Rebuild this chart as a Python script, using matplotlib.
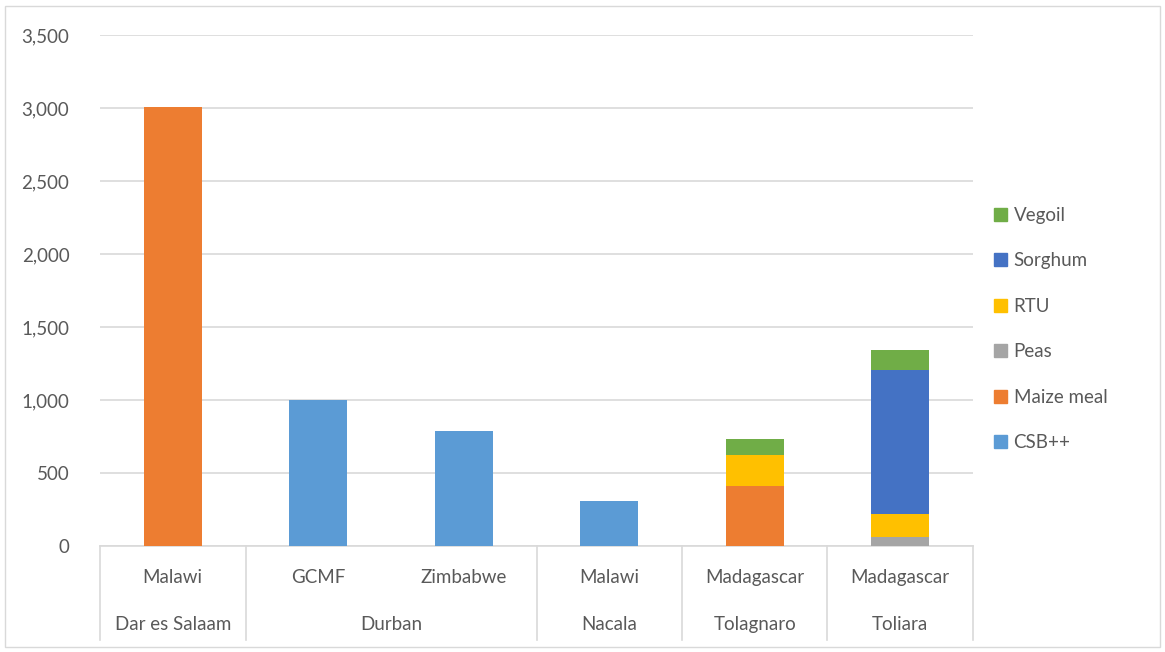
import matplotlib.pyplot as plt
import matplotlib.transforms as mtransforms
from matplotlib.patches import Rectangle, Patch
import numpy as np

plt.rcParams['font.family'] = ['Lato', 'DejaVu Sans']

# categories: (origin, port)
origins = ["Malawi", "GCMF", "Zimbabwe", "Malawi", "Madagascar", "Madagascar"]
ports = ["Dar es Salaam", "Durban", "Nacala", "Tolagnaro", "Toliara"]
port_spans = [(0, 0), (1, 2), (3, 3), (4, 4), (5, 5)]

commodities = ["CSB++", "Maize meal", "Peas", "RTU", "Sorghum", "Vegoil"]
colors = ["#5B9BD5", "#ED7D31", "#A5A5A5", "#FFC000", "#4472C4", "#70AD47"]

csb = [0, 1000, 790, 310, 0, 0]
maize = [3010, 0, 0, 0, 413, 0]
peas = [0, 0, 0, 0, 0, 60]
rtu = [0, 0, 0, 0, 210, 160]
sorghum = [0, 0, 0, 0, 0, 985]
vegoil = [0, 0, 0, 0, 110, 135]
series = [csb, maize, peas, rtu, sorghum, vegoil]

fs = 13.5

fig = plt.figure(figsize=(11.65, 6.52), dpi=100)
ax = fig.add_axes([100 / 1165, 106 / 652, 873 / 1165, 511 / 652])

x = np.arange(len(origins))
bottom = np.zeros(len(origins))
for name, vals, c in zip(commodities, series, colors):
    ax.bar(x, vals, width=0.4, bottom=bottom, color=c, label=name, zorder=3)
    bottom += np.array(vals)

ax.set_xlim(-0.5, len(origins) - 0.5)
ax.set_ylim(0, 3500)
ax.set_yticks(np.arange(0, 3501, 500))
ax.set_yticklabels([f"{v:,}" for v in range(0, 3501, 500)])
ax.yaxis.grid(True, color="#D9D9D9", linewidth=1.2, zorder=0)
ax.tick_params(axis='y', length=0, pad=22, labelsize=fs, labelcolor="#595959")
ax.tick_params(axis='x', length=0, labelbottom=False)
for s in ["top", "right", "left"]:
    ax.spines[s].set_visible(False)
ax.spines["bottom"].set_color("#D9D9D9")
ax.spines["bottom"].set_linewidth(1.2)

# multi-level category axis
trans = mtransforms.blended_transform_factory(ax.transData, ax.transAxes)
for i, name in enumerate(origins):
    ax.text(i, -0.061, name, transform=trans, ha='center', va='center',
            fontsize=fs, color="#595959")
for (a, b), name in zip(port_spans, ports):
    ax.text((a + b) / 2, -0.153, name, transform=trans, ha='center', va='center',
            fontsize=fs, color="#595959")
for sep in [-0.5, 0.5, 2.5, 3.5, 4.5, 5.5]:
    ax.plot([sep, sep], [0, -0.184], transform=trans, color="#D9D9D9",
            linewidth=1.2, clip_on=False)

handles = [Patch(color=c, label=n) for n, c in zip(commodities, colors)][::-1]
fig.legend(handles=handles, loc='center left', bbox_to_anchor=(977 / 1165, 1 - 329 / 652),
           frameon=False, fontsize=fs, labelcolor="#595959", handlelength=0.7,
           handleheight=0.7, handletextpad=0.35, labelspacing=1.52)

fig.patches.append(Rectangle((5 / 1165, 5 / 652), 1155 / 1165, 641 / 652,
                             transform=fig.transFigure, fill=False,
                             edgecolor="#D9D9D9", linewidth=1))

fig.savefig("out.png", dpi=100)
